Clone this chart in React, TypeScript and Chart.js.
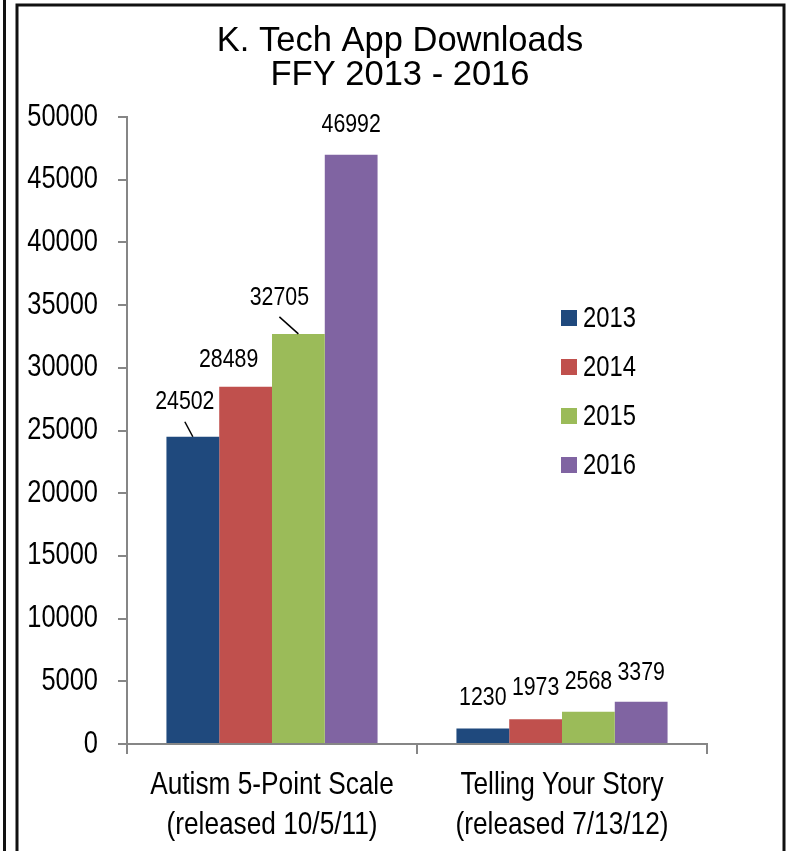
import React, { useEffect, useRef } from "react";
import { Chart, registerables } from "chart.js";

Chart.register(...registerables);

// ---- data ----
const TITLE_LINES = ["K. Tech App Downloads", "FFY 2013 - 2016"];
const CATEGORIES = [
  ["Autism 5-Point Scale", "(released 10/5/11)"],
  ["Telling Your Story", "(released 7/13/12)"],
];
const YEARS = ["2013", "2014", "2015", "2016"];
const DOWNLOADS_2013 = [24502, 1230];
const DOWNLOADS_2014 = [28489, 1973];
const DOWNLOADS_2015 = [32705, 2568];
const DOWNLOADS_2016 = [46992, 3379];
const Y_MIN = 0;
const Y_MAX = 50000;
const Y_STEP = 5000;

// ---- styles ----
const COLORS = ["#1F497D", "#C0504D", "#9BBB59", "#8064A2"];
const AXIS = "#868686";
const SANS = '"Liberation Sans", Arial, sans-serif';
const NARROW_SCALE = 0.82; // Arial Narrow ≈ Arial compressed horizontally

// data-label placement relative to the bar top centre: [dx, dy, leaderDx, leaderDy] (leader optional)
const LABEL_PLACEMENT: number[][][] = [
  [[-8, -35, -8, -15], [0, -31]],
  [[-17, -27], [0, -31]],
  [[-19, -36, -19, -17], [0, -30]],
  [[0, -30], [0, -29]],
];

const LEGEND_BOX_X = 561;
const LEGEND_TEXT_X = 583;
const LEGEND_Y0 = 318;
const LEGEND_GAP = 49;
const LEGEND_BOX = 16;

function narrowText(
  ctx: CanvasRenderingContext2D,
  text: string,
  x: number,
  y: number,
  size: number,
  align: CanvasTextAlign
) {
  ctx.save();
  ctx.translate(x, y);
  ctx.scale(NARROW_SCALE, 1);
  ctx.font = `${size}px ${SANS}`;
  ctx.fillStyle = "#000";
  ctx.textAlign = align;
  ctx.textBaseline = "middle";
  ctx.fillText(text, 0, 0);
  ctx.restore();
}

const framePlugin = {
  id: "frame",
  beforeDraw(chart: any) {
    const ctx = chart.ctx;
    const { width, height } = chart;
    ctx.save();
    ctx.fillStyle = "#fff";
    ctx.fillRect(0, 0, width, height);
    ctx.strokeStyle = "#111";
    ctx.lineWidth = 3;
    ctx.beginPath();
    ctx.moveTo(4.5, 0);
    ctx.lineTo(4.5, height);
    ctx.moveTo(17, height);
    ctx.lineTo(17, 5);
    ctx.lineTo(784, 5);
    ctx.lineTo(784, height);
    ctx.stroke();
    // title
    ctx.fillStyle = "#000";
    ctx.font = `34.5px ${SANS}`;
    ctx.textAlign = "center";
    ctx.textBaseline = "middle";
    TITLE_LINES.forEach((line, i) => ctx.fillText(line, 400, 41 + i * 34.5));
    ctx.restore();
  },
};

const axisLabelPlugin = {
  id: "axisLabels",
  afterDraw(chart: any) {
    const ctx = chart.ctx;
    const ys = chart.scales.y;
    ys.ticks.forEach((t: any, i: number) => {
      narrowText(ctx, String(t.label), chart.chartArea.left - 29, ys.getPixelForTick(i), 31, "right");
    });
    const xs = chart.scales.x;
    xs.ticks.forEach((t: any, i: number) => {
      const lines: string[] = Array.isArray(t.label) ? t.label : [t.label];
      lines.forEach((line, k) => {
        narrowText(ctx, line, xs.getPixelForTick(i), chart.chartArea.bottom + 41.5 + k * 39.5, 32, "center");
      });
    });
  },
};

const labelPlugin = {
  id: "valueLabels",
  afterDatasetsDraw(chart: any) {
    const ctx = chart.ctx;
    chart.data.datasets.forEach((ds: any, i: number) => {
      const meta = chart.getDatasetMeta(i);
      meta.data.forEach((bar: any, j: number) => {
        const p = LABEL_PLACEMENT[i][j];
        narrowText(ctx, String(ds.data[j]), bar.x + p[0], bar.y + p[1], 26, "center");
        if (p.length === 4) {
          ctx.save();
          ctx.strokeStyle = "#000";
          ctx.lineWidth = 1.5;
          ctx.beginPath();
          ctx.moveTo(bar.x + p[2], bar.y + p[3]);
          ctx.lineTo(bar.x, bar.y);
          ctx.stroke();
          ctx.restore();
        }
      });
    });
  },
};

const legendPlugin = {
  id: "sideLegend",
  afterDraw(chart: any) {
    const ctx = chart.ctx;
    chart.data.datasets.forEach((ds: any, i: number) => {
      const cy = LEGEND_Y0 + i * LEGEND_GAP;
      ctx.save();
      ctx.fillStyle = ds.backgroundColor;
      ctx.fillRect(LEGEND_BOX_X, cy - LEGEND_BOX / 2, LEGEND_BOX, LEGEND_BOX);
      ctx.restore();
      narrowText(ctx, ds.label, LEGEND_TEXT_X, cy + 1, 29, "left");
    });
  },
};

export default function App() {
  const ref = useRef<HTMLCanvasElement>(null);
  useEffect(() => {
    const canvas = ref.current!;
    const series = [DOWNLOADS_2013, DOWNLOADS_2014, DOWNLOADS_2015, DOWNLOADS_2016];
    const chart = new Chart(canvas, {
      type: "bar",
      data: {
        labels: CATEGORIES,
        datasets: YEARS.map((y, i) => ({
          label: y,
          data: series[i],
          backgroundColor: COLORS[i],
          borderWidth: 0,
          categoryPercentage: 0.728,
          barPercentage: 1,
        })),
      },
      options: {
        responsive: false,
        animation: false,
        devicePixelRatio: 1,
        layout: { padding: { left: 0, right: 81, top: 117, bottom: 0 } },
        plugins: {
          legend: { display: false },
          tooltip: { enabled: false },
          title: { display: false },
        },
        scales: {
          x: {
            offset: true,
            grid: {
              offset: true,
              drawOnChartArea: false,
              drawTicks: true,
              tickLength: 10,
              color: AXIS,
              lineWidth: 2,
            },
            border: { display: true, color: AXIS, width: 2 },
            ticks: { display: false, autoSkip: false },
            afterFit: (s: any) => {
              s.height = 107;
            },
          },
          y: {
            min: Y_MIN,
            max: Y_MAX,
            ticks: {
              display: false,
              stepSize: Y_STEP,
              callback: (v: any) => String(v),
            },
            grid: { drawOnChartArea: false, tickLength: 9, color: AXIS, lineWidth: 2 },
            border: { display: true, color: AXIS, width: 2 },
            afterFit: (s: any) => {
              s.width = 127;
            },
          },
        },
      } as any,
      plugins: [framePlugin, labelPlugin, legendPlugin, axisLabelPlugin],
    });
    return () => chart.destroy();
  }, []);
  return (
    <div style={{ position: "absolute", left: 0, top: 0, width: 788, height: 851 }}>
      <canvas ref={ref} width={788} height={851} style={{ display: "block" }} />
    </div>
  );
}
